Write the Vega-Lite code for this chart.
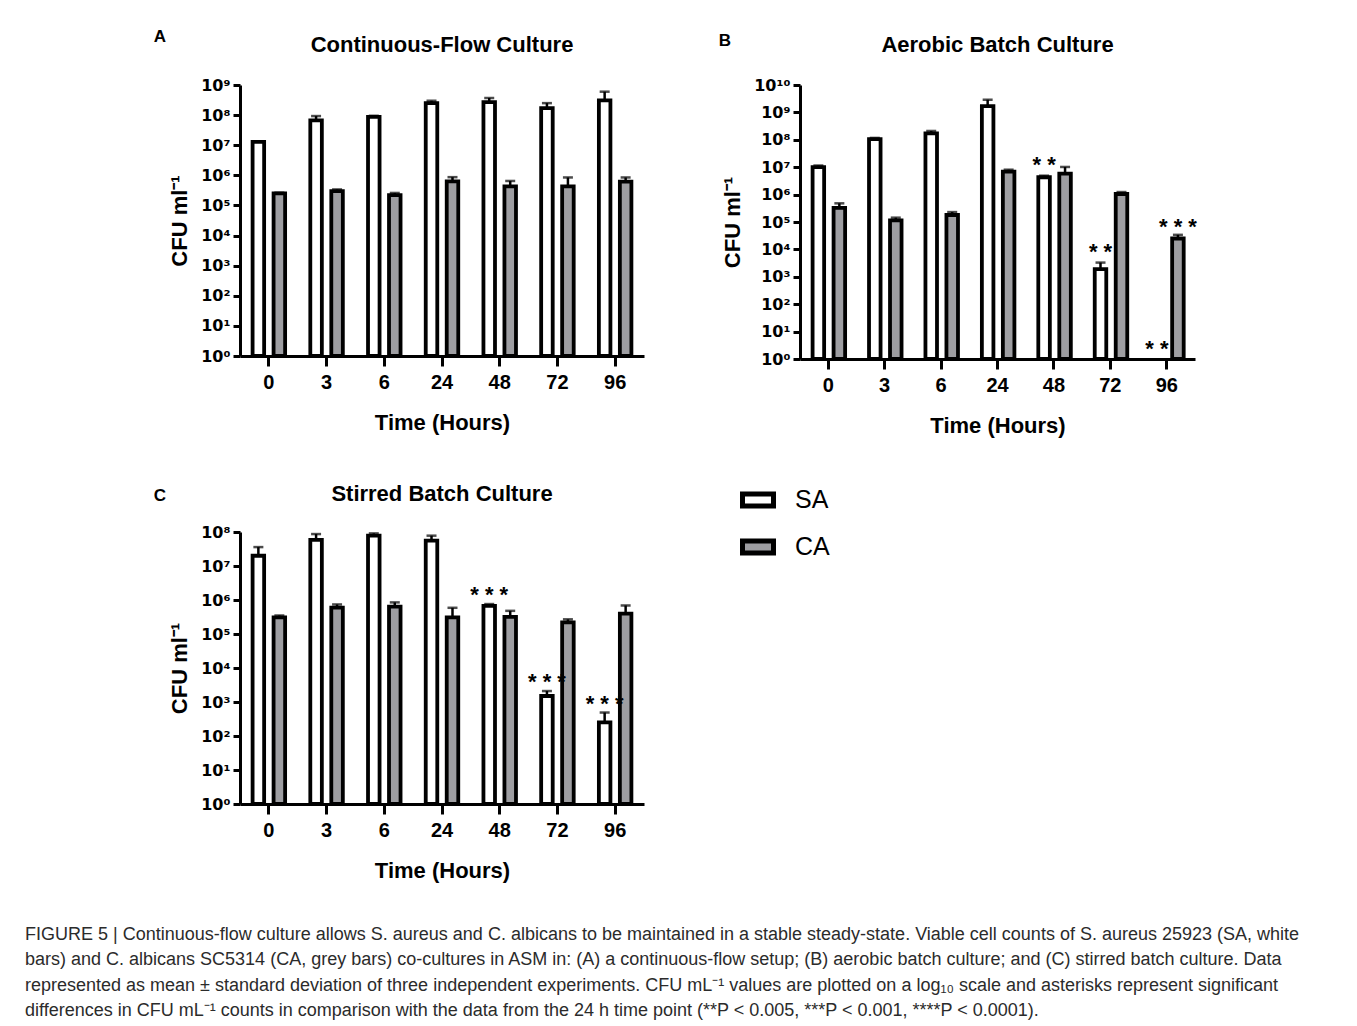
{
  "$schema": "https://vega.github.io/schema/vega-lite/v6.json",
  "padding": {"left": 25, "top": 28, "right": 5, "bottom": 3},
  "background": "white",
  "datasets": {
    "cfu": [
      {"p":"A","t":"0","g":"SA","v":1.3e7,"u":1.35e7},
      {"p":"A","t":"0","g":"CA","v":2.5e5,"u":2.65e5},
      {"p":"A","t":"3","g":"SA","v":6.7e7,"u":9.3e7},
      {"p":"A","t":"3","g":"CA","v":3.0e5,"u":3.4e5},
      {"p":"A","t":"6","g":"SA","v":8.8e7,"u":9.5e7},
      {"p":"A","t":"6","g":"CA","v":2.2e5,"u":2.6e5},
      {"p":"A","t":"24","g":"SA","v":2.5e8,"u":3.0e8},
      {"p":"A","t":"24","g":"CA","v":6.3e5,"u":8.7e5},
      {"p":"A","t":"48","g":"SA","v":2.7e8,"u":3.7e8},
      {"p":"A","t":"48","g":"CA","v":4.3e5,"u":6.5e5},
      {"p":"A","t":"72","g":"SA","v":1.7e8,"u":2.5e8},
      {"p":"A","t":"72","g":"CA","v":4.3e5,"u":8.5e5},
      {"p":"A","t":"96","g":"SA","v":3.1e8,"u":6.0e8},
      {"p":"A","t":"96","g":"CA","v":6.2e5,"u":8.5e5},
      {"p":"B","t":"0","g":"SA","v":1.0e7,"u":1.15e7},
      {"p":"B","t":"0","g":"CA","v":3.3e5,"u":4.8e5},
      {"p":"B","t":"3","g":"SA","v":1.05e8,"u":1.17e8},
      {"p":"B","t":"3","g":"CA","v":1.15e5,"u":1.44e5},
      {"p":"B","t":"6","g":"SA","v":1.73e8,"u":2.1e8},
      {"p":"B","t":"6","g":"CA","v":1.8e5,"u":2.3e5},
      {"p":"B","t":"24","g":"SA","v":1.7e9,"u":2.9e9},
      {"p":"B","t":"24","g":"CA","v":6.9e6,"u":8.1e6},
      {"p":"B","t":"48","g":"SA","v":4.3e6,"u":4.9e6},
      {"p":"B","t":"48","g":"CA","v":5.8e6,"u":1.02e7},
      {"p":"B","t":"72","g":"SA","v":1.9e3,"u":3.3e3},
      {"p":"B","t":"72","g":"CA","v":1.05e6,"u":1.24e6},
      {"p":"B","t":"96","g":"CA","v":2.5e4,"u":3.4e4},
      {"p":"C","t":"0","g":"SA","v":2.0e7,"u":3.6e7},
      {"p":"C","t":"0","g":"CA","v":3.1e5,"u":3.5e5},
      {"p":"C","t":"3","g":"SA","v":5.9e7,"u":8.7e7},
      {"p":"C","t":"3","g":"CA","v":6.0e5,"u":7.4e5},
      {"p":"C","t":"6","g":"SA","v":7.8e7,"u":9.1e7},
      {"p":"C","t":"6","g":"CA","v":6.4e5,"u":8.5e5},
      {"p":"C","t":"24","g":"SA","v":5.6e7,"u":7.8e7},
      {"p":"C","t":"24","g":"CA","v":3.1e5,"u":5.9e5},
      {"p":"C","t":"48","g":"SA","v":6.7e5,"u":7.6e5},
      {"p":"C","t":"48","g":"CA","v":3.2e5,"u":4.8e5},
      {"p":"C","t":"72","g":"SA","v":1.5e3,"u":2.1e3},
      {"p":"C","t":"72","g":"CA","v":2.2e5,"u":2.7e5},
      {"p":"C","t":"96","g":"SA","v":2.5e2,"u":4.9e2},
      {"p":"C","t":"96","g":"CA","v":4.0e5,"u":6.9e5}
    ],
    "sig": [
      {"p":"B","t":"48","g":"SA","y":1.2e7,"s":"* *"},
      {"p":"B","t":"72","g":"SA","y":8e3,"s":"* *"},
      {"p":"B","t":"96","g":"SA","y":2.4,"s":"* *"},
      {"p":"B","t":"96","g":"CA","y":6.6e4,"s":"* * *"},
      {"p":"C","t":"48","g":"SA","y":1.4e6,"s":"* * *"},
      {"p":"C","t":"72","g":"SA","y":4e3,"s":"* * *"},
      {"p":"C","t":"96","g":"SA","y":850,"s":"* * *"}
    ]
  },
  "title": {
    "text": [
      "FIGURE 5 | Continuous-flow culture allows S. aureus and C. albicans to be maintained in a stable steady-state. Viable cell counts of S. aureus 25923 (SA, white",
      "bars) and C. albicans SC5314 (CA, grey bars) co-cultures in ASM in: (A) a continuous-flow setup; (B) aerobic batch culture; and (C) stirred batch culture. Data",
      "represented as mean ± standard deviation of three independent experiments. CFU mL⁻¹ values are plotted on a log₁₀ scale and asterisks represent significant",
      "differences in CFU mL⁻¹ counts in comparison with the data from the 24 h time point (**P < 0.005, ***P < 0.001, ****P < 0.0001)."
    ],
    "orient": "bottom", "anchor": "start", "frame": "group",
    "font": "Liberation Sans", "fontSize": 18, "fontWeight": "normal", "color": "#2b2b2b",
    "lineHeight": 25.3, "offset": 45, "dx": -215
  },
  "spacing": 46,
  "resolve": {"scale": {"fill": "independent"}, "legend": {"fill": "independent"}},
  "vconcat": [
    {
      "hconcat": [
        {
          "title": {"text": "A", "anchor": "start", "frame": "bounds", "font": "Liberation Sans", "fontSize": 17, "fontWeight": "bold", "color": "black", "dx": -15, "offset": -25, "baseline": "alphabetic"},
          "vconcat": [
            {
              "title": {"text": "Continuous-Flow Culture", "anchor": "middle", "frame": "group", "font": "Liberation Sans", "fontSize": 22, "fontWeight": "bold", "color": "black", "offset": 3, "baseline": "alphabetic"},
              "width": 404, "height": 271,
              "encoding": {
                "x": {"field": "t", "type": "nominal", "sort": ["0","3","6","24","48","72","96"], "scale": {"paddingInner": 0, "paddingOuter": 0}, "title": "Time (Hours)"},
                "xOffset": {"field": "g", "type": "nominal", "sort": ["SA","CA"], "scale": {"domain": ["SA","CA"], "paddingInner": 0.45, "paddingOuter": 0.6}}
              },
              "layer": [
                {
                  "data": {"name": "cfu"},
                  "transform": [{"filter": "datum.p === 'A'"}],
                  "mark": {"type": "bar", "stroke": "black", "strokeWidth": 3.8},
                  "encoding": {
                    "y": {"field": "v", "type": "quantitative", "scale": {"type": "log", "domain": [1, 1e9], "nice": false},
                      "axis": {"values": [1,10,100,1000,10000,100000,1000000,10000000,100000000,1000000000],
                        "labelExpr": "'10' + (round(log(datum.value)/LN10) >= 10 ? '¹' + substring('⁰¹²³⁴⁵⁶⁷⁸⁹', round(log(datum.value)/LN10)-10, round(log(datum.value)/LN10)-9) : substring('⁰¹²³⁴⁵⁶⁷⁸⁹', round(log(datum.value)/LN10), round(log(datum.value)/LN10)+1))"},
                      "title": "CFU ml⁻¹"},
                    "y2": {"datum": 1},
                    "fill": {"field": "g", "type": "nominal", "scale": {"domain": ["SA","CA"], "range": ["white", "#9e9ea2"]}, "legend": null}
                  }
                },
                {
                  "data": {"name": "cfu"},
                  "transform": [{"filter": "datum.p === 'A'"}],
                  "mark": {"type": "rule", "color": "black", "strokeWidth": 2.5},
                  "encoding": {"y": {"field": "v", "type": "quantitative"}, "y2": {"field": "u"}}
                },
                {
                  "data": {"name": "cfu"},
                  "transform": [{"filter": "datum.p === 'A'"}],
                  "mark": {"type": "tick", "color": "black", "thickness": 2.5, "size": 10, "orient": "horizontal"},
                  "encoding": {"y": {"field": "u", "type": "quantitative"}}
                }
              ]
            }
          ]
        },
        {
          "title": {"text": "B", "anchor": "start", "frame": "bounds", "font": "Liberation Sans", "fontSize": 17, "fontWeight": "bold", "color": "black", "dx": -3, "offset": -29, "baseline": "alphabetic"},
          "vconcat": [
            {
              "title": {"text": "Aerobic Batch Culture", "anchor": "middle", "frame": "group", "font": "Liberation Sans", "fontSize": 22, "fontWeight": "bold", "color": "black", "offset": 3, "baseline": "alphabetic"},
              "width": 395, "height": 274,
              "encoding": {
                "x": {"field": "t", "type": "nominal", "sort": ["0","3","6","24","48","72","96"], "scale": {"paddingInner": 0, "paddingOuter": 0}, "title": "Time (Hours)"},
                "xOffset": {"field": "g", "type": "nominal", "sort": ["SA","CA"], "scale": {"domain": ["SA","CA"], "paddingInner": 0.45, "paddingOuter": 0.6}}
              },
              "layer": [
                {
                  "data": {"name": "cfu"},
                  "transform": [{"filter": "datum.p === 'B'"}],
                  "mark": {"type": "bar", "stroke": "black", "strokeWidth": 3.8},
                  "encoding": {
                    "y": {"field": "v", "type": "quantitative", "scale": {"type": "log", "domain": [1, 1e10], "nice": false},
                      "axis": {"values": [1,10,100,1000,10000,100000,1000000,10000000,100000000,1000000000,10000000000],
                        "labelExpr": "'10' + (round(log(datum.value)/LN10) >= 10 ? '¹' + substring('⁰¹²³⁴⁵⁶⁷⁸⁹', round(log(datum.value)/LN10)-10, round(log(datum.value)/LN10)-9) : substring('⁰¹²³⁴⁵⁶⁷⁸⁹', round(log(datum.value)/LN10), round(log(datum.value)/LN10)+1))"},
                      "title": "CFU ml⁻¹"},
                    "y2": {"datum": 1},
                    "fill": {"field": "g", "type": "nominal", "scale": {"domain": ["SA","CA"], "range": ["white", "#9e9ea2"]}, "legend": null}
                  }
                },
                {
                  "data": {"name": "cfu"},
                  "transform": [{"filter": "datum.p === 'B'"}],
                  "mark": {"type": "rule", "color": "black", "strokeWidth": 2.5},
                  "encoding": {"y": {"field": "v", "type": "quantitative"}, "y2": {"field": "u"}}
                },
                {
                  "data": {"name": "cfu"},
                  "transform": [{"filter": "datum.p === 'B'"}],
                  "mark": {"type": "tick", "color": "black", "thickness": 2.5, "size": 10, "orient": "horizontal"},
                  "encoding": {"y": {"field": "u", "type": "quantitative"}}
                },
                {
                  "data": {"name": "sig"},
                  "transform": [{"filter": "datum.p === 'B'"}],
                  "mark": {"type": "text", "font": "Liberation Sans", "fontSize": 22, "fontWeight": "bold", "color": "black", "baseline": "middle"},
                  "encoding": {"y": {"field": "y", "type": "quantitative"}, "text": {"field": "s"}}
                }
              ]
            }
          ]
        }
      ],
      "spacing": 74,
      "resolve": {"scale": {"fill": "independent"}, "legend": {"fill": "independent"}}
    },
    {
      "title": {"text": "C", "anchor": "start", "frame": "bounds", "font": "Liberation Sans", "fontSize": 17, "fontWeight": "bold", "color": "black", "dx": -15, "offset": -36, "baseline": "alphabetic"},
      "resolve": {"legend": {"fill": "independent"}},
      "vconcat": [
        {
          "title": {"text": "Stirred Batch Culture", "anchor": "middle", "frame": "group", "font": "Liberation Sans", "fontSize": 22, "fontWeight": "bold", "color": "black", "offset": -41, "baseline": "alphabetic"},
          "width": 404, "height": 272,
          "encoding": {
            "x": {"field": "t", "type": "nominal", "sort": ["0","3","6","24","48","72","96"], "scale": {"paddingInner": 0, "paddingOuter": 0}, "title": "Time (Hours)"},
            "xOffset": {"field": "g", "type": "nominal", "sort": ["SA","CA"], "scale": {"domain": ["SA","CA"], "paddingInner": 0.45, "paddingOuter": 0.6}}
          },
          "layer": [
            {
              "data": {"name": "cfu"},
              "transform": [{"filter": "datum.p === 'C'"}],
              "mark": {"type": "bar", "stroke": "black", "strokeWidth": 3.8},
              "encoding": {
                "y": {"field": "v", "type": "quantitative", "scale": {"type": "log", "domain": [1, 1e8], "nice": false},
                  "axis": {"values": [1,10,100,1000,10000,100000,1000000,10000000,100000000],
                    "labelExpr": "'10' + (round(log(datum.value)/LN10) >= 10 ? '¹' + substring('⁰¹²³⁴⁵⁶⁷⁸⁹', round(log(datum.value)/LN10)-10, round(log(datum.value)/LN10)-9) : substring('⁰¹²³⁴⁵⁶⁷⁸⁹', round(log(datum.value)/LN10), round(log(datum.value)/LN10)+1))"},
                  "title": "CFU ml⁻¹"},
                "y2": {"datum": 1},
                "fill": {"field": "g", "type": "nominal", "sort": ["SA","CA"], "scale": {"domain": ["SA","CA"], "range": ["white", "#9e9ea2"]},
                  "legend": {"orient": "none", "legendX": 500, "legendY": -50, "title": null, "symbolType": "M-1,-0.39H1V0.39H-1Z", "symbolSize": 961, "symbolStrokeColor": "black", "symbolStrokeWidth": 5, "symbolOpacity": 1, "labelFont": "Liberation Sans", "labelFontSize": 25, "labelFontWeight": "normal", "labelColor": "black", "labelOffset": 19, "rowPadding": 12, "padding": 0}}
              }
            },
            {
              "data": {"name": "cfu"},
              "transform": [{"filter": "datum.p === 'C'"}],
              "mark": {"type": "rule", "color": "black", "strokeWidth": 2.5},
              "encoding": {"y": {"field": "v", "type": "quantitative"}, "y2": {"field": "u"}}
            },
            {
              "data": {"name": "cfu"},
              "transform": [{"filter": "datum.p === 'C'"}],
              "mark": {"type": "tick", "color": "black", "thickness": 2.5, "size": 10, "orient": "horizontal"},
              "encoding": {"y": {"field": "u", "type": "quantitative"}}
            },
            {
              "data": {"name": "sig"},
              "transform": [{"filter": "datum.p === 'C'"}],
              "mark": {"type": "text", "font": "Liberation Sans", "fontSize": 22, "fontWeight": "bold", "color": "black", "baseline": "middle"},
              "encoding": {"y": {"field": "y", "type": "quantitative"}, "text": {"field": "s"}}
            }
          ]
        }
      ]
    }
  ],
  "config": {
    "font": "Liberation Sans",
    "view": {"stroke": null},
    "axis": {"domainColor": "black", "domainWidth": 3, "tickColor": "black", "tickWidth": 3, "labelColor": "black", "labelFont": "Liberation Sans", "labelFontWeight": "bold", "titleColor": "black", "titleFont": "Liberation Sans", "titleFontWeight": "bold", "titleFontSize": 22, "grid": false},
    "axisX": {"labelFontSize": 20, "tickSize": 10, "labelPadding": 6, "labelAngle": 0, "titlePadding": 20},
    "axisY": {"labelFont": "DejaVu Sans", "labelFontSize": 16, "tickSize": 7, "labelPadding": 3, "titlePadding": 9}
  }
}
